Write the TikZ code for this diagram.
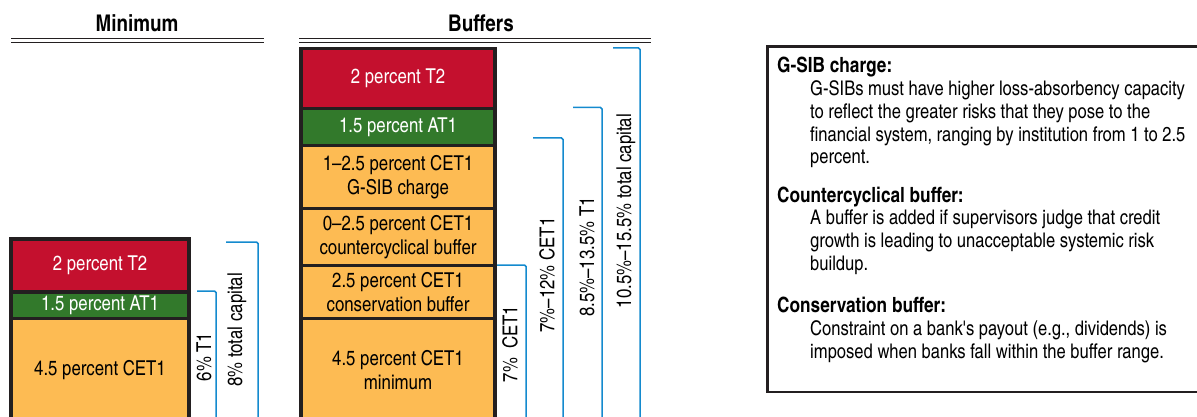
\documentclass[tikz,border=0pt]{standalone}
\usepackage{fontspec}
\setmainfont{texgyreheroscn}[Extension=.otf, UprightFont=*-regular, BoldFont=*-bold]
\usetikzlibrary{calc,positioning}

\definecolor{capred}{RGB}{196,16,46}
\definecolor{capgreen}{RGB}{50,121,43}
\definecolor{capamber}{RGB}{253,187,83}
\definecolor{capframe}{RGB}{35,31,32}
\definecolor{capblue}{RGB}{20,138,206}

\tikzset{
  seg/.style={draw=capframe, line width=3.5pt, align=center, inner sep=0pt, outer sep=0pt,
              font=\fontsize{20.5}{24.5}\selectfont},
  minseg/.style={seg, minimum width=178},
  bufseg/.style={seg, minimum width=194},
  brk/.style={draw=capblue, line width=1.5pt, rounded corners=1.5pt},
  rotlab/.style={rotate=90, inner sep=0pt, font=\fontsize{20.5}{24}\selectfont},
  head/.style={font=\bfseries\fontsize{23}{26}\selectfont, inner sep=0pt},
  rule/.style={draw=capframe, line width=1.9pt, double=white, double distance=2.1pt},
  nothead/.style={anchor=north west, inner sep=0pt, font=\bfseries\fontsize{21}{24}\selectfont},
  notetext/.style={anchor=north west, inner sep=0pt, align=left, font=\fontsize{20.2}{22.8}\selectfont}
}

\begin{document}
\begin{tikzpicture}[x=1pt, y=-1pt]
\path[use as bounding box] (0,0) rectangle (1197,417);
\clip (0,0) rectangle (1197,417);

% column heads
\node[head] (minhead) at (137,23.5) {Minimum};
\node[head] (bufhead) at (481,23.5) {Buffers};
\draw[rule] (11,40.5) -- (264,40.5);
\draw[rule] (299,40.5) -- (651,40.5);

% minimum stack
\node[minseg, fill=capred, text=white, minimum height=53] (t2min) at (100,265.5) {2 percent T2};
\node[minseg, fill=capgreen, text=white, minimum height=26.5, below=0pt of t2min] (at1min) {1.5 percent AT1};
\node[minseg, fill=capamber, minimum height=103, below=0pt of at1min] (cet1min) {4.5 percent CET1};

% buffers stack
\node[bufseg, fill=capred, text=white, minimum height=60] (t2buf) at (398,78.5) {2 percent T2};
\node[bufseg, fill=capgreen, text=white, minimum height=37, below=0pt of t2buf] (at1buf) {1.5 percent AT1};
\node[bufseg, fill=capamber, minimum height=63, below=0pt of at1buf] (gsib) {1--2.5 percent CET1\\G-SIB charge};
\node[bufseg, fill=capamber, minimum height=57, below=0pt of gsib] (ccyb) {0--2.5 percent CET1\\countercyclical buffer};
\node[bufseg, fill=capamber, minimum height=53, below=0pt of ccyb] (ccb) {2.5 percent CET1\\conservation buffer};
\node[bufseg, fill=capamber, minimum height=103, below=0pt of ccb] (cet1buf) {4.5 percent CET1\\minimum};

% brackets
\draw[brk] ($(at1min.north east)+(8,-1)$) -- ++(19,0) -- ++(0,150);
\draw[brk] ($(t2min.north east)+(37,3)$) -- ++(32,0) -- ++(0,200);
\draw[brk] ($(ccb.north east)+(2,-0.5)$) -- ++(29,0) -- ++(0,180);
\draw[brk] ($(gsib.north east)+(38,-7.5)$) -- ++(30,0) -- ++(0,300);
\draw[brk] ($(at1buf.north east)+(78,-1)$) -- ++(29,0) -- ++(0,330);
\draw[brk] ($(t2buf.north east)+(118,-0.5)$) -- ++(27,0) -- ++(0,390);

\node[rotlab] (t1minlab) at (204,357) {6\% T1};
\node[rotlab] (totminlab) at (237,330) {8\% total capital};
\node[rotlab] (cetbuflab) at (510,344) {7\%\ \ CET1};
\node[rotlab] (cetrglab) at (547,275) {7\%--12\% CET1};
\node[rotlab] (t1rglab) at (587,257) {8.5\%--13.5\% T1};
\node[rotlab] (totrglab) at (626,211) {10.5\%--15.5\% total capital};

% notes
\node[draw=capframe, line width=2.5pt, anchor=north west, minimum width=460, minimum height=345] (notes) at (766,45.5) {};
\node[nothead] (gsibhead) at (777,57) {G-SIB charge:};
\node[notetext] (gsibtxt) at (810,80.5) {G-SIBs must have higher loss-absorbency capacity\\
  to reflect the greater risks that they pose to the\\
  financial system, ranging by institution from 1 to 2.5\\
  percent.};
\node[nothead] (ccybhead) at (777,187) {Countercyclical buffer:};
\node[notetext] (ccybtxt) at (810,209.5) {A buffer is added if supervisors judge that credit\\
  growth is leading to unacceptable systemic risk\\
  buildup.};
\node[nothead] (ccbhead) at (777,297) {Conservation buffer:};
\node[notetext] (ccbtxt) at (810,320.5) {Constraint on a bank\textquotesingle s payout (e.g., dividends) is\\
  imposed when banks fall within the buffer range.};
\end{tikzpicture}
\end{document}
